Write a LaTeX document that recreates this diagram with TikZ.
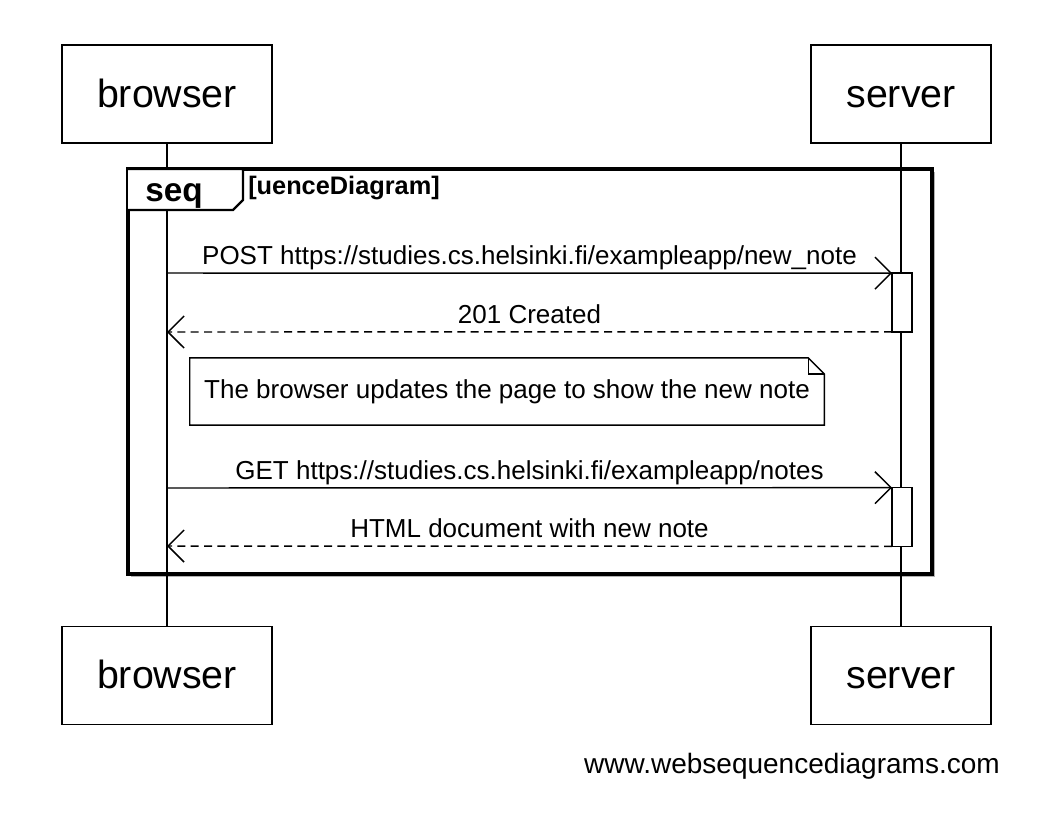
\documentclass[tikz,border=0pt]{standalone}
\usepackage{fontspec}
\setmainfont{Liberation Sans}
\usetikzlibrary{arrows.meta, calc, positioning}

\tikzset{
  actor/.style={draw, line width=1.1pt, minimum height=73.5pt, inner sep=0pt,
    text height=21pt, text depth=1pt, font=\fontsize{29.5pt}{32pt}\selectfont},
  life/.style={line width=1.1pt},
  act/.style={draw, fill=white, line width=1.1pt, minimum width=15pt,
    minimum height=44pt, inner sep=0pt, outer sep=0pt},
  msg/.style={line width=1.1pt, -{Straight Barb[length=12pt, width=24pt]}},
  ret/.style={msg, dash pattern=on 6pt off 4pt},
  lbl/.style={font=\fontsize{19.5pt}{22pt}\selectfont, anchor=base, inner sep=0pt}
}

\begin{document}
\begin{tikzpicture}[x=0.75pt, y=-0.75pt]
\useasboundingbox (0,0) rectangle (1052,822);

% Lifeline positions
\newcommand{\browserx}{167}
\newcommand{\serverx}{901}
\newcommand{\actx}{902}

% Participants
\node[actor, minimum width=157.5pt] (browserTop) at (\browserx, 94) {browser};
\node[actor, minimum width=135pt] (serverTop) at (\serverx, 94) {server};
\node[actor, minimum width=157.5pt] (browserBot) at (\browserx, 675.5) {browser};
\node[actor, minimum width=135pt] (serverBot) at (\serverx, 675.5) {server};

% Frame corners
\coordinate (FTL) at (128, 169);
\coordinate (FBR) at (932, 574);

% Frame with shadow
\fill[black!30] ($ (FTL) + (3, 3) $) rectangle ($ (FBR) + (3, 3) $);
\draw[line width=2.3pt, fill=white] (FTL) rectangle (FBR);

% Lifelines
\draw[life] (browserTop) -- (browserBot);
\draw[life] (serverTop) -- (serverBot);

% Tab
\draw[line width=1.8pt, fill=white] (FTL) -- ($ (FTL) + (115, 0) $) -- ($ (FTL) + (115, 31) $)
  -- ($ (FTL) + (105, 41) $) -- ($ (FTL) + (0, 41) $);
\node[lbl, font=\fontsize{25pt}{28pt}\selectfont\bfseries] (seqTab) at (174, 201) {seq};
\node[lbl, font=\fontsize{19pt}{22pt}\selectfont\bfseries, anchor=base west] (seqName)
  at (248, 194) {[uenceDiagram]};

% Activations
\node[act] (act1) at (\actx, 302.5) {};
\node[act] (act2) at (\actx, 517) {};

% Message ends on the browser lifeline
\coordinate (m1) at (\browserx, 273);
\coordinate (m2) at (\browserx, 332);
\coordinate (m3) at (\browserx, 488);
\coordinate (m4) at (\browserx, 546);

% Messages
\draw[msg] (m1) -- (act1.north west)
  node[lbl, midway, yshift=6.5pt] (lbl1) {POST https://studies.cs.helsinki.fi/exampleapp/new\_note};
\draw[ret] (act1.south west) -- (m2)
  node[lbl, midway, yshift=6.5pt] (lbl2) {201 Created};
\draw[msg] (m3) -- (act2.north west)
  node[lbl, midway, yshift=6.5pt] (lbl3) {GET https://studies.cs.helsinki.fi/exampleapp/notes};
\draw[ret] (act2.south west) -- (m4)
  node[lbl, midway, yshift=6.5pt] (lbl4) {HTML document with new note};

% Note
\node[lbl, anchor=center, minimum width=475.5pt, minimum height=50pt] (note)
  at (507, 391.5) {The browser updates the page to show the new note};
\draw[line width=1.1pt] (note.north west) -- ($ (note.north east) + (-16, 0) $)
  -- ($ (note.north east) + (0, 16) $) -- (note.south east) -- (note.south west) -- cycle;
\draw[line width=1.1pt] ($ (note.north east) + (-16, 0) $) -- ($ (note.north east) + (-16, 16) $)
  -- ($ (note.north east) + (0, 16) $);

% Watermark
\node[lbl, font=\fontsize{21pt}{24pt}\selectfont, anchor=base east] (mark)
  at (1000, 773) {www.websequencediagrams.com};

\end{tikzpicture}
\end{document}
